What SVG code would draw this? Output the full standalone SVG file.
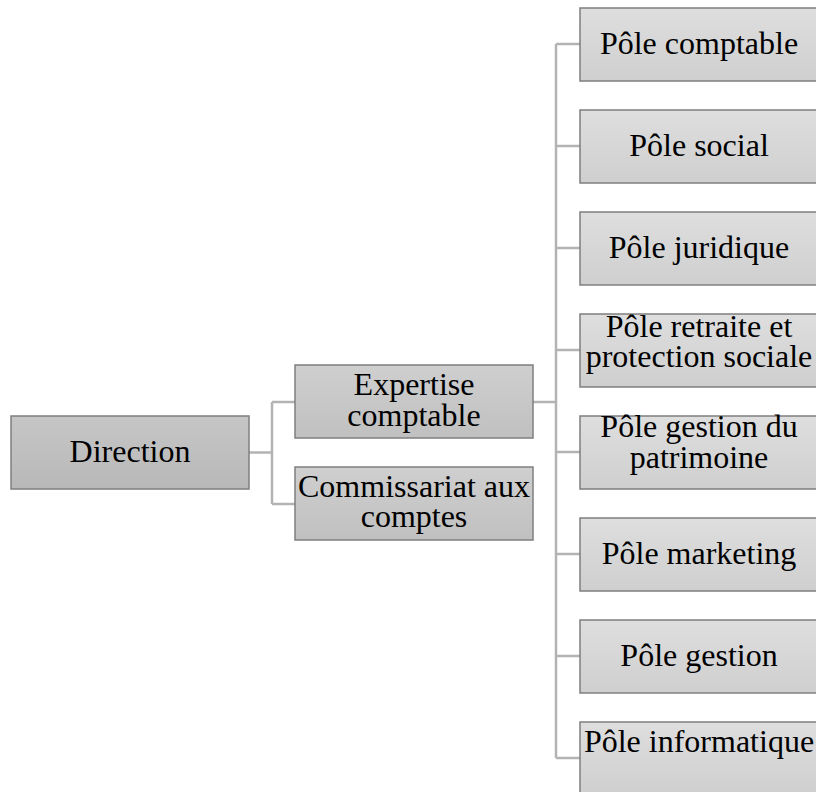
<svg xmlns="http://www.w3.org/2000/svg" width="816" height="792" viewBox="0 0 816 792">
<defs>
<linearGradient id="g1" x1="0" y1="0" x2="0" y2="1"><stop offset="0" stop-color="#c6c6c6"/><stop offset="1" stop-color="#b8b8b8"/></linearGradient>
<linearGradient id="g2" x1="0" y1="0" x2="0" y2="1"><stop offset="0" stop-color="#cfcfcf"/><stop offset="1" stop-color="#c0c0c0"/></linearGradient>
<linearGradient id="g3" x1="0" y1="0" x2="0" y2="1"><stop offset="0" stop-color="#dedede"/><stop offset="1" stop-color="#cfcfcf"/></linearGradient>
<style>
.b{stroke:#7f7f7f;stroke-width:1.5}
.l1{fill:url(#g1)}.l2{fill:url(#g2)}.l3{fill:url(#g3)}
text{font-family:"Liberation Serif","Times New Roman",serif;font-size:32px;fill:#000;text-anchor:middle}
.c{fill:none;stroke:#b3b3b3;stroke-width:2.5}
</style>
</defs>
<g id="connectors">
<path class="c" d="M249,452.5H272M272,402V504M272,402H295M272,504H295"/>
<path class="c" d="M533,402H556M556,44V758M556,44H580M556,146H580M556,248H580M556,350H580M556,452H580M556,554H580M556,656H580M556,758H580"/>
</g>
<g id="direction"><rect class="b l1" x="11" y="416" width="238" height="73"/><text x="130" y="462">Direction</text></g>
<g id="expertise"><rect class="b l2" x="295" y="365" width="238" height="73"/><text x="414" y="395">Expertise<tspan x="414" dy="31">comptable</tspan></text></g>
<g id="commissariat"><rect class="b l2" x="295" y="467" width="238" height="73"/><text x="414" y="497">Commissariat aux<tspan x="414" dy="30">comptes</tspan></text></g>
<g id="pole-comptable"><rect class="b l3" x="580" y="8" width="240" height="73"/><text x="699" y="54">Pôle comptable</text></g>
<g id="pole-social"><rect class="b l3" x="580" y="110" width="240" height="73"/><text x="699" y="156">Pôle social</text></g>
<g id="pole-juridique"><rect class="b l3" x="580" y="212" width="240" height="73"/><text x="699" y="258">Pôle juridique</text></g>
<g id="pole-retraite"><rect class="b l3" x="580" y="314" width="240" height="73"/><text x="699" y="337">Pôle retraite et<tspan x="699" dy="30">protection sociale</tspan></text></g>
<g id="pole-patrimoine"><rect class="b l3" x="580" y="416" width="240" height="73"/><text x="699" y="437">Pôle gestion du<tspan x="699" dy="31">patrimoine</tspan></text></g>
<g id="pole-marketing"><rect class="b l3" x="580" y="518" width="240" height="73"/><text x="699" y="564">Pôle marketing</text></g>
<g id="pole-gestion"><rect class="b l3" x="580" y="620" width="240" height="73"/><text x="699" y="666">Pôle gestion</text></g>
<g id="pole-informatique"><rect class="b l3" x="580" y="722" width="240" height="73"/><text x="699" y="752">Pôle informatique</text></g>
</svg>
